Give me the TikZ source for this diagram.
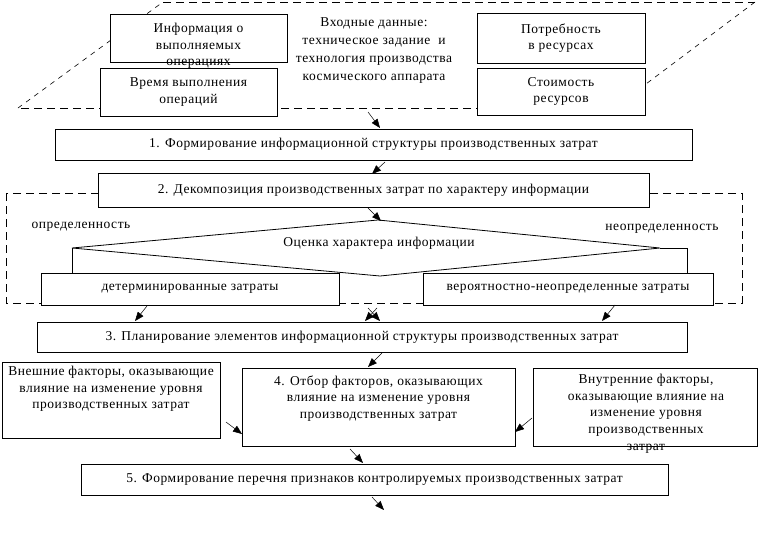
\documentclass[tikz,border=0pt]{standalone}
\usepackage{fontspec}
\setmainfont{Liberation Serif}[LetterSpace=4]
\usetikzlibrary{arrows.meta,calc}
\begin{document}
\begin{tikzpicture}[x=1pt,y=-1pt,
  font=\fontsize{13.5}{16.7}\selectfont,
  box/.style={draw, fill=white, line width=0.8pt, inner sep=0pt, align=center},
  txt/.style={inner sep=0pt, align=center},
  dashline/.style={draw, line width=0.8pt, dash pattern=on 8pt off 5pt},
  diagdash/.style={draw, line width=0.6pt, dash pattern=on 5pt off 5pt},
  conn/.style={draw, line width=0.8pt},
  arr/.style={draw, line width=0.5pt, -{Triangle[length=9pt,width=7pt]}}]
\useasboundingbox (0,0) rectangle (762,554);

% dashed frames
\coordinate (p1) at (18,108);
\coordinate (p2) at (163,2);
\coordinate (p3) at (755,2);
\coordinate (p4) at (614,108);
\draw[diagdash] (p1) -- (p2);
\draw[dashline] (p2) -- (p3);
\draw[diagdash] (p3) -- (p4);
\draw[dashline] (p4) -- (p1);
\draw[dashline] (6,193) rectangle (742,303);

% input block
\node[box, minimum width=177pt, minimum height=48pt] (info) at (198.5,38) {};
\node[txt] (infot) at (198.5,46) {Информация о\\выполняемых\\операциях};
\node[box, minimum width=177pt, minimum height=48pt] (time) at (188.5,92) {Время выполнения\\операций};
\node[txt, font=\fontsize{13.5}{18}\selectfont] (input) at (374,51) {Входные данные:\\техническое задание \ и\\технология производства\\космического аппарата};
\node[box, minimum width=168pt, minimum height=50pt] (need) at (561,38) {Потребность\\в ресурсах};
\node[box, minimum width=168pt, minimum height=47pt] (cost) at (561,91.5) {Стоимость\\ресурсов};

% step boxes
\node[box, minimum width=637pt, minimum height=31pt] (b1) at (373.5,144.5) {1. Формирование информационной структуры производственных затрат};
\node[box, minimum width=551pt, minimum height=34pt] (b2) at (373.5,190) {2. Декомпозиция производственных затрат по характеру информации};

% decision
\coordinate (dl) at (72,248);
\coordinate (dt) at (378,220);
\coordinate (dr) at (660,248);
\coordinate (db) at (380,276);
\draw[conn] (dl) -- (dt) -- (dr) -- (db) -- cycle;
\node[txt] (eval) at (379,243) {Оценка характера информации};
\node[txt] (defl) at (81,227) {определенность};
\node[txt] (undl) at (662,229) {неопределенность};

\node[box, minimum width=298pt, minimum height=32pt] (det) at (190,289) {детерминированные затраты};
\node[box, minimum width=290pt, minimum height=32pt] (ver) at (568,289) {вероятностно-неопределенные затраты};
\coordinate (vj) at (687,273);
\draw[conn] (dl) -- (dl |- det.north);
\draw[conn] (dr) -| (vj);

\node[box, minimum width=650pt, minimum height=30pt] (b3) at (362,337) {3. Планирование элементов информационной структуры производственных затрат};

\node[box, minimum width=218pt, minimum height=76pt] (ext) at (111,400) {};
\node[txt] (extt) at (111,389) {Внешние факторы, оказывающие\\влияние на изменение уровня\\производственных затрат};
\node[box, minimum width=273pt, minimum height=78pt] (b4) at (378.5,407) {};
\node[txt] (b4t) at (378.5,398.5) {4. Отбор факторов, оказывающих\\влияние на изменение уровня\\производственных затрат};
\node[box, minimum width=224pt, minimum height=78pt] (int) at (645,407) {};
\node[txt] (intt) at (646,413.5) {Внутренние факторы,\\оказывающие влияние на\\изменение уровня\\производственных\\затрат};

\node[box, minimum width=587pt, minimum height=31pt] (b5) at (374.5,479.5) {5. Формирование перечня признаков контролируемых производственных затрат};

% arrows
\coordinate (a1s) at (368,112);  \coordinate (a1e) at (380,128);
\coordinate (a2s) at (385,162);  \coordinate (a2e) at (372,174);
\coordinate (a3s) at (368,208);  \coordinate (a3e) at (381,221);
\coordinate (a4s) at (147,306);  \coordinate (a4e) at (135,321);
\coordinate (a5s) at (368,308);  \coordinate (a5e) at (380,321);
\coordinate (a6s) at (377,308);  \coordinate (a6e) at (365,321);
\coordinate (a7s) at (615,305);  \coordinate (a7e) at (602,321);
\coordinate (a8s) at (382,353);  \coordinate (a8e) at (368,367);
\coordinate (a9s) at (226,422);  \coordinate (a9e) at (242,434);
\coordinate (a10s) at (532,418); \coordinate (a10e) at (515,432);
\coordinate (a11s) at (350,449); \coordinate (a11e) at (363,463);
\coordinate (a12s) at (372,497); \coordinate (a12e) at (384,510);
\foreach \i in {1,...,12} {\draw[arr] (a\i s) -- (a\i e);}
\end{tikzpicture}
\end{document}
